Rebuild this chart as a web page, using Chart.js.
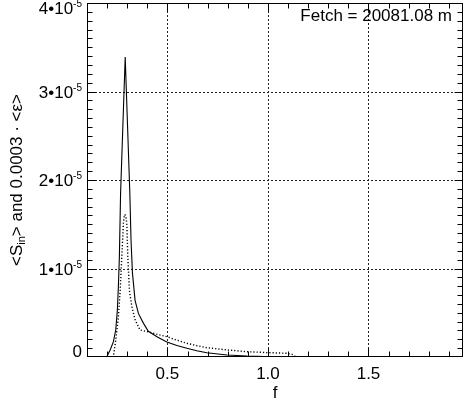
<!DOCTYPE html>
<html>
<head>
<meta charset="utf-8">
<script src="https://cdn.jsdelivr.net/npm/chart.js@4.4.0/dist/chart.umd.min.js"></script>
<style>
html,body{margin:0;padding:0;background:#fff}
</style>
</head>
<body>
<canvas id="c" width="465" height="404"></canvas>
<script>
const FONT = '"Liberation Sans", Arial, Helvetica, sans-serif';
const fetchLabel = 'Fetch = 20081.08 m';
const xTitle = 'f';
const xMajor = [0.5, 1.0, 1.5];
const yMajor = [0, 1, 2, 3, 4];   // in units of 1e-5
const UNIT = 1e-5;

// <S_in>  (solid), values in 1e-5
const freqS = [0.10, 0.198, 0.215, 0.231, 0.243, 0.251, 0.256, 0.261, 0.267, 0.290, 0.313, 0.319, 0.326, 0.339, 0.356, 0.381, 0.405, 0.45, 0.497, 0.547, 0.597, 0.646, 0.696, 0.796, 0.896, 1.026, 1.10, 1.20, 1.97];
const sIn   = [0, 0, 0.079, 0.17, 0.305, 0.53, 0.79, 1.13, 1.85, 3.39, 1.85, 1.32, 0.95, 0.64, 0.49, 0.38, 0.29, 0.225, 0.17, 0.13, 0.098, 0.07, 0.048, 0.023, 0.011, 0.003, 0.001, 0, 0];

// 0.0003 * <eps>  (dotted), values in 1e-5
const freqE = [0.10, 0.231, 0.243, 0.256, 0.265, 0.273, 0.281, 0.286, 0.292, 0.298, 0.303, 0.311, 0.323, 0.339, 0.364, 0.405, 0.45, 0.497, 0.547, 0.597, 0.646, 0.696, 0.796, 0.896, 0.995, 1.094, 1.12, 1.14, 1.97];
const eps   = [0, 0, 0.19, 0.45, 0.75, 1.13, 1.51, 1.61, 1.6, 1.51, 1.13, 0.75, 0.57, 0.42, 0.305, 0.285, 0.255, 0.23, 0.19, 0.155, 0.128, 0.105, 0.08, 0.06, 0.05, 0.042, 0.03, 0, 0];

const toXY = (fs, vs) => fs.map((f, i) => ({x: f, y: vs[i] * UNIT}));

const decor = {
  id: 'decor',
  beforeDatasetsDraw(chart) {
    const {ctx, chartArea: a, scales: {x, y}} = chart;
    ctx.save();
    ctx.strokeStyle = '#222';
    ctx.lineWidth = 1;
    ctx.setLineDash([2, 2]);
    xMajor.forEach(v => {
      const px = Math.round(x.getPixelForValue(v)) + 0.5;
      ctx.beginPath(); ctx.moveTo(px, a.top); ctx.lineTo(px, a.bottom); ctx.stroke();
    });
    yMajor.slice(1, -1).forEach(v => {
      const py = Math.round(y.getPixelForValue(v * UNIT)) + 0.5;
      ctx.beginPath(); ctx.moveTo(a.left, py); ctx.lineTo(a.right, py); ctx.stroke();
    });
    ctx.restore();
  },
  afterDatasetsDraw(chart) {
    const {ctx, chartArea: a, scales: {x, y}} = chart;
    const L = Math.round(a.left) + 0.5, R = Math.round(a.right) - 0.5;
    const T = Math.round(a.top) + 0.5, B = Math.round(a.bottom) - 0.5;
    ctx.save();
    ctx.strokeStyle = '#000';
    ctx.lineWidth = 1;
    ctx.strokeRect(L, T, R - L, B - T);
    ctx.beginPath();
    // x ticks every 0.1, inward on bottom and top
    for (let k = 1; k < 20; k++) {
      const v = k / 10;
      if (v < x.min || v > x.max) continue;
      const len = (k % 5 === 0) ? 8 : 5;
      const px = Math.round(x.getPixelForValue(v)) + 0.5;
      ctx.moveTo(px, B); ctx.lineTo(px, B - len);
      ctx.moveTo(px, T); ctx.lineTo(px, T + len);
    }
    // y ticks every 1e-6, inward on left and right
    for (let k = 1; k < 40; k++) {
      const len = (k % 10 === 0) ? 8 : 5;
      const py = Math.round(y.getPixelForValue(k * UNIT / 10)) + 0.5;
      ctx.moveTo(L, py); ctx.lineTo(L + len, py);
      ctx.moveTo(R, py); ctx.lineTo(R - len, py);
    }
    ctx.stroke();
    ctx.restore();
  },
  afterDraw(chart) {
    const {ctx, chartArea: a, scales: {y}} = chart;
    ctx.save();
    ctx.fillStyle = '#000';
    // y tick labels n*10^-5
    yMajor.forEach(v => {
      let cy = y.getPixelForValue(v * UNIT);
      cy = Math.min(Math.max(cy, a.top + 4.5), a.bottom - 6);
      const base = cy + 6;
      const main = v === 0 ? '0' : v + '\u202210';
      const sup = v === 0 ? '' : '-5';
      ctx.font = '10px ' + FONT;
      const sw = ctx.measureText(sup).width;
      ctx.font = '17px ' + FONT;
      const mw = ctx.measureText(main).width;
      const x0 = 82 - sw - mw;
      ctx.textBaseline = 'alphabetic';
      ctx.textAlign = 'left';
      ctx.fillText(main, x0, base);
      if (sup) { ctx.font = '10px ' + FONT; ctx.fillText(sup, x0 + mw, base - 7); }
    });
    // y axis title with subscript
    const parts = [
      {t: '<S', f: 17, dy: 0},
      {t: 'in', f: 11, dy: 3},
      {t: '> and 0.0003 \u00b7 <\u03b5>', f: 17, dy: 0}
    ];
    let tot = 0;
    parts.forEach(p => { ctx.font = p.f + 'px ' + FONT; p.w = ctx.measureText(p.t).width; tot += p.w; });
    ctx.translate(22, (a.top + a.bottom) / 2);
    ctx.rotate(-Math.PI / 2);
    let cx = -tot / 2;
    parts.forEach(p => {
      ctx.font = p.f + 'px ' + FONT;
      ctx.fillText(p.t, cx, p.dy);
      cx += p.w;
    });
    ctx.setTransform(1, 0, 0, 1, 0, 0);
    // fetch annotation
    ctx.font = '17px ' + FONT;
    ctx.textAlign = 'right';
    ctx.textBaseline = 'alphabetic';
    ctx.fillText(fetchLabel, 452, 21);
    ctx.restore();
  }
};

new Chart(document.getElementById('c'), {
  type: 'line',
  data: {
    datasets: [
      {label: '<S_in>', data: toXY(freqS, sIn), borderColor: '#000', borderWidth: 1.1, pointRadius: 0, tension: 0, fill: false},
      {label: '0.0003 <eps>', data: toXY(freqE, eps), borderColor: '#000', borderWidth: 1.4, borderDash: [1.2, 2], pointRadius: 0, tension: 0, fill: false}
    ]
  },
  options: {
    responsive: false,
    animation: false,
    layout: {padding: {top: 3, right: 2, left: 0, bottom: 0}},
    plugins: {legend: {display: false}, tooltip: {enabled: false}},
    scales: {
      x: {
        type: 'linear', min: 0.1, max: 1.97,
        afterBuildTicks: s => { s.ticks = xMajor.map(v => ({value: v})); },
        afterFit: s => { s.height = 47; },
        grid: {display: false, drawTicks: false},
        border: {display: false},
        ticks: {color: '#000', font: {family: FONT, size: 17}, padding: 7, maxRotation: 0,
                callback: v => Number(v).toFixed(1)},
        title: {display: true, text: xTitle, color: '#000', font: {family: FONT, size: 17}, padding: {top: 0, bottom: 0}}
      },
      y: {
        type: 'linear', min: 0, max: 4 * UNIT,
        afterFit: s => { s.width = 87; },
        grid: {display: false, drawTicks: false},
        border: {display: false},
        ticks: {display: false}
      }
    }
  },
  plugins: [decor]
});
</script>
</body>
</html>
